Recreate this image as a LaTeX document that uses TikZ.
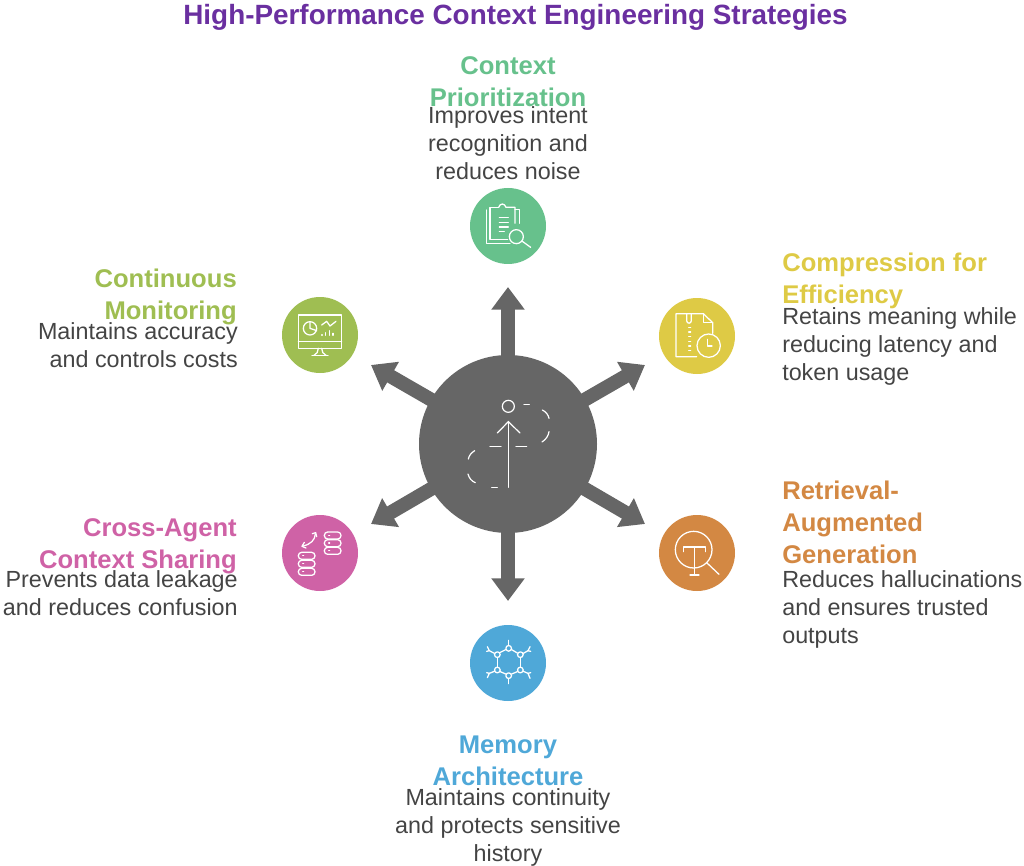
\documentclass[tikz,border=0pt]{standalone}
\usepackage{fontspec}
\setmainfont{Liberation Sans}
\usetikzlibrary{arrows.meta}
\definecolor{cgreen}{HTML}{67C18C}
\definecolor{cyellow}{HTML}{DECA45}
\definecolor{corange}{HTML}{D38843}
\definecolor{cblue}{HTML}{4FA8D8}
\definecolor{cpink}{HTML}{CF62A6}
\definecolor{clime}{HTML}{9FBE52}
\definecolor{cgray}{HTML}{666666}
\definecolor{cpurple}{HTML}{6A2FA0}
\definecolor{ctext}{HTML}{444444}
\tikzset{
  hub/.style={circle,fill=cgray,minimum size=133.5pt,inner sep=0pt},
  spoke/.style={draw=cgray,line width=10.5pt,-{Triangle[width=24pt,length=17pt]}},
  disc/.style={circle,minimum size=57pt,inner sep=0pt},
  head/.style={inner sep=0pt,font=\fontsize{19.2pt}{24pt}\selectfont\bfseries},
  desc/.style={inner sep=0pt,text=ctext,font=\fontsize{17.5pt}{21pt}\selectfont},
  ico/.style={draw=white,line width=0.95pt,line cap=round,line join=round},
  zoomed/.style={shift={#1},x=0.25pt,y=-0.25pt}
}
\begin{document}
\begin{tikzpicture}[x=0.75pt,y=-0.75pt]
\useasboundingbox (0,0) rectangle (1024,866);
\node[inner sep=0pt,text=cpurple,font=\fontsize{20.9pt}{26pt}\selectfont\bfseries] (title) at (515.5,17) {High-Performance Context Engineering Strategies};

\node[hub] (hub) at (508,444) {};
\coordinate (tipN) at (508,287);
\coordinate (tipS) at (508,601);
\coordinate (tipNE) at (645,365);
\coordinate (tipSE) at (645,524);
\coordinate (tipNW) at (371,365);
\coordinate (tipSW) at (371,524);
\foreach \t in {tipN,tipS,tipNE,tipSE,tipNW,tipSW} \draw[spoke] (hub.center) -- (\t);

% hub icon
\begin{scope}[zoomed={(400,340)},every path/.append style={draw=white,line width=0.9pt,line cap=round}]
\draw (325,199) circle (18);
\draw (325,442) -- (325,245);
\draw (292,279) -- (325,245) -- (360,279);
\draw (372,194) -- (388,194);
\draw (427,210) .. controls (438,215) and (445,225) .. (447,235);
\draw (447,275) .. controls (445,288) and (438,298) .. (426,306);
\draw (380,319) -- (348,319);
\draw (303,319) -- (270,319);
\draw (224,332) .. controls (214,338) and (207,347) .. (205,357);
\draw (204,402) .. controls (207,414) and (215,424) .. (226,428);
\draw (275,442) -- (292,442);
\end{scope}

% discs
\node[disc,fill=cgreen] (dN) at (508,226) {};
\node[disc,fill=cyellow] (dNE) at (697,336) {};
\node[disc,fill=corange] (dSE) at (697,553) {};
\node[disc,fill=cblue] (dS) at (508,663) {};
\node[disc,fill=cpink] (dSW) at (320,553) {};
\node[disc,fill=clime] (dNW) at (320,335) {};

% clipboard icon
\begin{scope}[zoomed={(460,180)}]
\draw[ico] (116,82) -- (90,82) -- (90,178) -- (143,178);
\draw[ico] (116,82) .. controls (118,76) and (122,72) .. (127,72) .. controls (132,72) and (136,76) .. (138,82) -- (165,82) -- (165,130);
\draw[ico] (79,90) -- (79,190) -- (150,190);
\draw[ico] (165,88) -- (178,88) -- (178,130);
\draw[ico] (118,112) -- (145,112);
\draw[ico] (118,127) -- (145,127);
\draw[ico] (118,141) -- (145,141);
\draw[ico] (118,155) -- (133,155);
\draw[ico] (169,170) circle (21);
\draw[ico] (187,184) -- (212,202);
\end{scope}

% zip file icon
\begin{scope}[zoomed={(650,290)}]
\draw[ico] (140,200) -- (78,200) -- (78,71) -- (160,71) -- (188,98) -- (188,130);
\draw[ico] (160,71) -- (160,98) -- (188,98);
\draw[ico] (110,71) -- (110,92) .. controls (110,102) and (124,102) .. (124,92) -- (124,71);
\foreach \yy in {113,126,140,154,168,182} \draw[ico] (116,\yy) -- (122,\yy);
\draw[ico] (176,167) circle (35);
\draw[ico] (173,148) -- (173,168) -- (186,168);
\end{scope}

% magnifier T icon
\begin{scope}[zoomed={(650,510)}]
\draw[ico] (131,119) circle (55);
\draw[ico] (170,158) -- (207,193);
\draw[ico] (100,125) -- (100,111) -- (166,111) -- (166,125);
\draw[ico] (133,111) -- (133,193);
\draw[ico] (120,195) -- (147,195);
\end{scope}

% network icon
\begin{scope}[zoomed={(460,620)}]
\draw[ico] (121,97) -- (137,89);
\draw[ico] (155,89) -- (172,99);
\draw[ico] (181,112) -- (181,141);
\draw[ico] (172,155) -- (155,162);
\draw[ico] (137,162) -- (121,155);
\draw[ico] (112,141) -- (112,112);
\foreach \a/\b in {112/104,146/85,181/104,181/150,146/167,112/150} \draw[ico] (\a,\b) circle (8.5);
\draw[ico] (146,76) -- (146,61);
\draw[ico] (146,176) -- (146,191);
\draw[ico] (103,100) -- (88,92) -- (82,80); \draw[ico] (88,92) -- (80,94);
\draw[ico] (190,100) -- (204,92) -- (210,80); \draw[ico] (204,92) -- (212,94);
\draw[ico] (103,154) -- (88,160) -- (82,173); \draw[ico] (88,160) -- (80,158);
\draw[ico] (190,154) -- (204,160) -- (210,175); \draw[ico] (204,160) -- (212,158);
\end{scope}

% databases icon
\begin{scope}[zoomed={(270,510)}]
\foreach \yy in {66,89,112} {
  \draw[ico,rounded corners=2.5pt] (163,\yy) rectangle (213,\yy+21);
  \draw[ico] (176,\yy+10) -- (179,\yy+10);
}
\foreach \yy in {127,151,175} {
  \draw[ico,rounded corners=2.5pt] (85,\yy) rectangle (135,\yy+21);
  \draw[ico] (98,\yy+10) -- (101,\yy+10);
}
\draw[ico] (136,72) .. controls (135,90) and (122,103) .. (99,108);
\draw[ico] (127,71) -- (137,68) -- (140,80);
\draw[ico] (108,114) -- (96,109) -- (103,97);
\end{scope}

% monitor icon
\begin{scope}[zoomed={(270,290)}]
\draw[ico] (85,75) rectangle (215,175);
\draw[ico] (85,155) -- (215,155);
\draw[ico] (145,175) .. controls (145,185) and (140,192) .. (132,196);
\draw[ico] (155,175) .. controls (155,185) and (160,192) .. (168,196);
\draw[ico] (126,196) -- (174,196);
\draw[ico] (120,115) circle (20);
\draw[ico] (120,95) -- (120,115) -- (140,122);
\draw[ico] (155,105) -- (170,94) -- (180,108) -- (198,94);
\foreach \a/\b in {156/134,167/128,178/122,189/130} \draw[ico] (\a,136) -- (\a,\b);
\end{scope}

% labels
\node[head,text=cgreen,align=center,anchor=north] (hN) at (508,56) {Context\\Prioritization};
\node[desc,align=center,anchor=north] (tN) at (508,106) {Improves intent\\recognition and\\reduces noise};

\node[head,text=cyellow,align=left,anchor=north west] (hNE) at (782,253) {Compression for\\Efficiency};
\node[desc,align=left,anchor=north west] (tNE) at (782,307) {Retains meaning while\\reducing latency and\\token usage};

\node[head,text=corange,align=left,anchor=north west] (hSE) at (782,481) {Retrieval-\\Augmented\\Generation};
\node[desc,align=left,anchor=north west] (tSE) at (782,570) {Reduces hallucinations\\and ensures trusted\\outputs};

\node[head,text=cblue,align=center,anchor=north] (hS) at (508,736) {Memory\\Architecture};
\node[desc,align=center,anchor=north] (tS) at (508,788) {Maintains continuity\\and protects sensitive\\history};

\node[head,text=cpink,align=right,anchor=north east] (hSW) at (237,518) {Cross-Agent\\Context Sharing};
\node[desc,align=right,anchor=north east] (tSW) at (238,570) {Prevents data leakage\\and reduces confusion};

\node[head,text=clime,align=right,anchor=north east] (hNW) at (237,269) {Continuous\\Monitoring};
\node[desc,align=right,anchor=north east] (tNW) at (238,322) {Maintains accuracy\\and controls costs};
\end{tikzpicture}
\end{document}
